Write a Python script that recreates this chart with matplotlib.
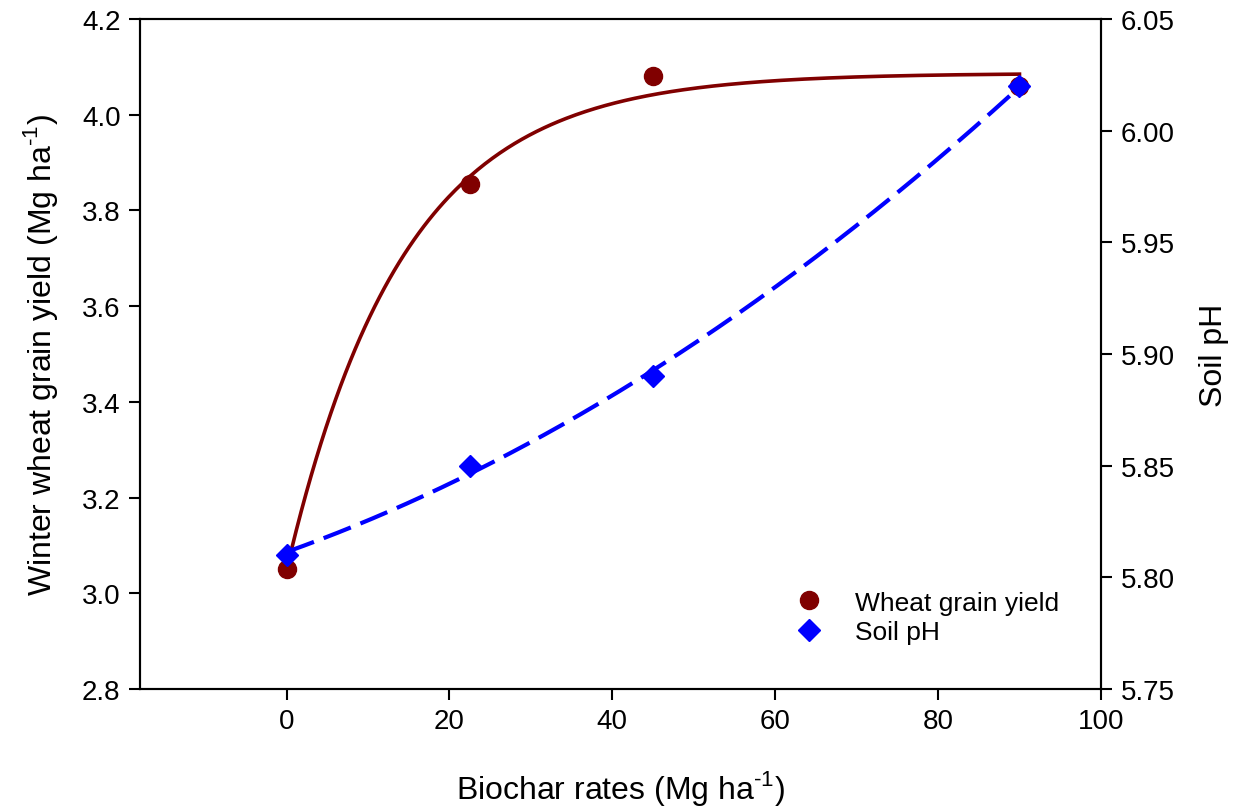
import numpy as np
import matplotlib
matplotlib.use("Agg")
import matplotlib.pyplot as plt

plt.rcParams['font.family'] = ['Liberation Sans', 'DejaVu Sans']
plt.rcParams['mathtext.fontset'] = 'custom'
plt.rcParams['mathtext.rm'] = 'Liberation Sans'

# data
biochar = [0, 22.5, 45, 90]
grain_yield = [3.05, 3.856, 4.08, 4.06]
soil_ph = [5.81, 5.85, 5.89, 6.02]

x = np.array(biochar)
yv = np.array(grain_yield)
pv = np.array(soil_ph)

# yield: exponential rise to max  y = y0 + a*(1-exp(-b x)), least squares
best = None
for b in np.linspace(0.005, 0.3, 3000):
    f = 1 - np.exp(-b * x)
    A = np.column_stack([np.ones_like(f), f])
    coef, res, _, _ = np.linalg.lstsq(A, yv, rcond=None)
    sse = np.sum((A @ coef - yv) ** 2)
    if best is None or sse < best[0]:
        best = (sse, b, coef)
_, b_fit, (y0_fit, a_fit) = best

# pH: quadratic fit
ph_coef = np.polyfit(x, pv, 2)

xs = np.linspace(0, 90, 300)

fig, ax = plt.subplots(figsize=(12.43, 8.12), dpi=100)
fig.subplots_adjust(left=0.1126, right=0.8857, top=0.9754, bottom=0.1502)
ax2 = ax.twinx()

ax.plot(xs, y0_fit + a_fit * (1 - np.exp(-b_fit * xs)), color='#800000', lw=2.6, zorder=2)
ax.plot(x, yv, 'o', color='#800000', ms=13, zorder=3, label='Wheat grain yield')

ax2.plot(xs, np.polyval(ph_coef, xs), color='#0000ff', lw=3, dashes=(7, 2.5), zorder=2)
ax2.plot(x, pv, 'D', color='#0000ff', ms=11, zorder=3, label='Soil pH')

ax.set_xlim(-18, 100)
ax.set_ylim(2.8, 4.2)
ax2.set_ylim(5.75, 6.05)
ax.set_xticks([0, 20, 40, 60, 80, 100])
ax.set_yticks(np.arange(2.8, 4.21, 0.2))
ax.set_yticklabels(['%.1f' % v for v in np.arange(2.8, 4.21, 0.2)])
ax2.set_yticks(np.arange(5.75, 6.051, 0.05))
ax2.set_yticklabels(['%.2f' % v for v in np.arange(5.75, 6.051, 0.05)])

for a in (ax, ax2):
    a.tick_params(direction='out', length=8, width=1.5, labelsize=20, pad=6)
    for s in a.spines.values():
        s.set_linewidth(1.5)

ax.set_xlabel(r'Biochar rates (Mg ha$^{\text{-1}}$)', fontsize=23, labelpad=24)
ax.set_ylabel(r'Winter wheat grain yield (Mg ha$^{\text{-1}}$)', fontsize=23, labelpad=16)
ax2.set_ylabel('Soil pH', fontsize=23, labelpad=18)

h1, l1 = ax.get_legend_handles_labels()
h2, l2 = ax2.get_legend_handles_labels()
ax2.legend(h1 + h2, l1 + l2, loc='lower right', bbox_to_anchor=(0.981, 0.032),
           frameon=False, fontsize=19, handletextpad=0.98, labelspacing=0.2,
           handlelength=1.5)

fig.savefig('out.png', dpi=100)
